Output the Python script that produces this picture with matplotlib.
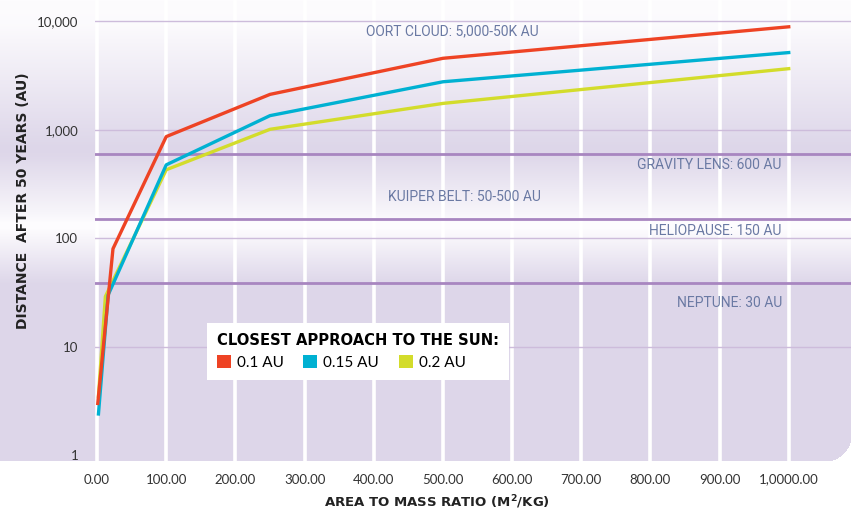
import numpy as np
import matplotlib
matplotlib.use('Agg')
import matplotlib.pyplot as plt
from matplotlib.patches import Patch

plt.rcParams['font.family'] = ['Lato', 'DejaVu Sans']

# ---- data ----
x_red = [1, 23, 100, 250, 500, 1000]
y_red = [3.0, 80, 865, 2120, 4560, 8900]
x_cyan = [2, 16, 100, 250, 500, 1000]
y_cyan = [2.4, 30, 475, 1350, 2770, 5150]
x_yel = [2, 12, 100, 250, 500, 1000]
y_yel = [3.5, 29, 428, 1010, 1750, 3660]
series_labels = ['0.1 AU', '0.15 AU', '0.2 AU']

ref_values = [600, 150, 39]
x_ticks = [0, 100, 200, 300, 400, 500, 600, 700, 800, 900, 1000]
x_ticklabels = ['0.00', '100.00', '200.00', '300.00', '400.00', '500.00',
                '600.00', '700.00', '800.00', '900.00', '1,0000.00']
y_ticks = [1, 10, 100, 1000, 10000]
y_ticklabels = ['1', '10', '100', '1,000', '10,000']

C_RED = '#ee4324'
C_CYAN = '#00b1d2'
C_YEL = '#d3dc2b'
C_REF = '#a886c0'
C_GRID = '#cdbcdb'
C_NOTE = '#6a79a3'
LAV = np.array([0xdd, 0xd6, 0xe9]) / 255
WHT = np.array([0xfd, 0xfc, 0xfe]) / 255
BOLD = ['DejaVu Sans']

W, H = 851, 513
PANEL_H = 461
fig = plt.figure(figsize=(W / 100, H / 100), dpi=100)

# ---- background panel with soft glow bands ----
bg = fig.add_axes([0, 1 - PANEL_H / H, 1, PANEL_H / H])
rows = np.arange(PANEL_H)
f = np.interp(rows, [0, 25, 148, 156, 214, 222, 228, 284, PANEL_H],
              [1.0, 0.95, 0.0, 0.05, 0.85, 1.0, 1.0, 0.0, 0.0])
img = np.ones((PANEL_H, W, 4))
img[:, :, :3] = (LAV[None, :] + (WHT - LAV)[None, :] * f[:, None])[:, None, :]
# rounded bottom-right corner
r = 26
yy, xx = np.mgrid[0:PANEL_H, 0:W]
cx, cy = W - r, PANEL_H - r
corner = (xx > cx) & (yy > cy) & ((xx - cx) ** 2 + (yy - cy) ** 2 > r ** 2)
img[corner, 3] = 0
bg.imshow(img, aspect='auto', interpolation='bilinear')
bg.axis('off')

# ---- main axes ----
left_px = 95
ax = fig.add_axes([left_px / W, 1 - PANEL_H / H, 1 - left_px / W, PANEL_H / H])
ax.patch.set_alpha(0)
ax.set_xlim(-3, 1090)
ax.set_yscale('log')
ax.set_ylim(0.884, 15720)

for xv in x_ticks:
    ax.axvline(xv, color='white', lw=2.6, zorder=1)
for yv in y_ticks[1:]:
    ax.axhline(yv, color=C_GRID, lw=1.0, zorder=1.5)
for yv in ref_values:
    ax.axhline(yv, color=C_REF, lw=2.0, zorder=2)

ax.plot(x_yel, y_yel, color=C_YEL, lw=2.4, zorder=3)
ax.plot(x_cyan, y_cyan, color=C_CYAN, lw=2.4, zorder=3)
ax.plot(x_red, y_red, color=C_RED, lw=2.4, zorder=3)

# region notes
note = dict(color=C_NOTE, fontsize=10, va='center', family=['Roboto', 'DejaVu Sans'])
ax.text(389, 8100, 'OORT CLOUD: 5,000-50K AU', ha='left', **note)
ax.text(990, 473, 'GRAVITY LENS: 600 AU', ha='right', **note)
ax.text(420, 240, 'KUIPER BELT: 50-500 AU', ha='left', **note)
ax.text(990, 117, 'HELIOPAUSE: 150 AU', ha='right', **note)
ax.text(990, 25.4, 'NEPTUNE: 30 AU', ha='right', **note)

ax.set_xticks(x_ticks)
ax.set_xticklabels(x_ticklabels)
ax.set_yticks(y_ticks)
ax.set_yticklabels(y_ticklabels)
ax.yaxis.set_minor_locator(matplotlib.ticker.NullLocator())
ax.tick_params(length=0, labelsize=9.5, labelcolor='#333333')
ax.tick_params(axis='x', pad=9)
ax.tick_params(axis='y', pad=12)
for sp in ax.spines.values():
    sp.set_visible(False)

ax.set_xlabel('AREA TO MASS RATIO (M$^\\mathbf{2}$/KG)', fontsize=9.5,
              fontweight='bold', color='#222222', family=BOLD)
ax.xaxis.set_label_coords(0.452, -0.07)
ax.set_ylabel('DISTANCE  AFTER 50 YEARS (AU)', fontsize=10, fontweight='bold',
              color='#222222', family=BOLD)
ax.yaxis.set_label_coords(-0.086, 0.565)

handles = [Patch(facecolor=c, edgecolor='none') for c in (C_RED, C_CYAN, C_YEL)]
leg = ax.legend(handles, series_labels, title='CLOSEST APPROACH TO THE SUN:',
                ncol=3, loc='upper left', bbox_to_anchor=(0.148, 0.30),
                frameon=True, fancybox=False, facecolor='white', edgecolor='none',
                framealpha=1, borderaxespad=0, handlelength=0.9, handleheight=0.9,
                handletextpad=0.4, columnspacing=1.3,
                prop={'family': ['Lato', 'DejaVu Sans'], 'size': 11},
                title_fontproperties={'weight': 'bold', 'size': 10.6,
                                      'family': BOLD},
                alignment='left', borderpad=0.65)
leg.set_zorder(5)

fig.savefig('out.png', dpi=100, facecolor='white')
